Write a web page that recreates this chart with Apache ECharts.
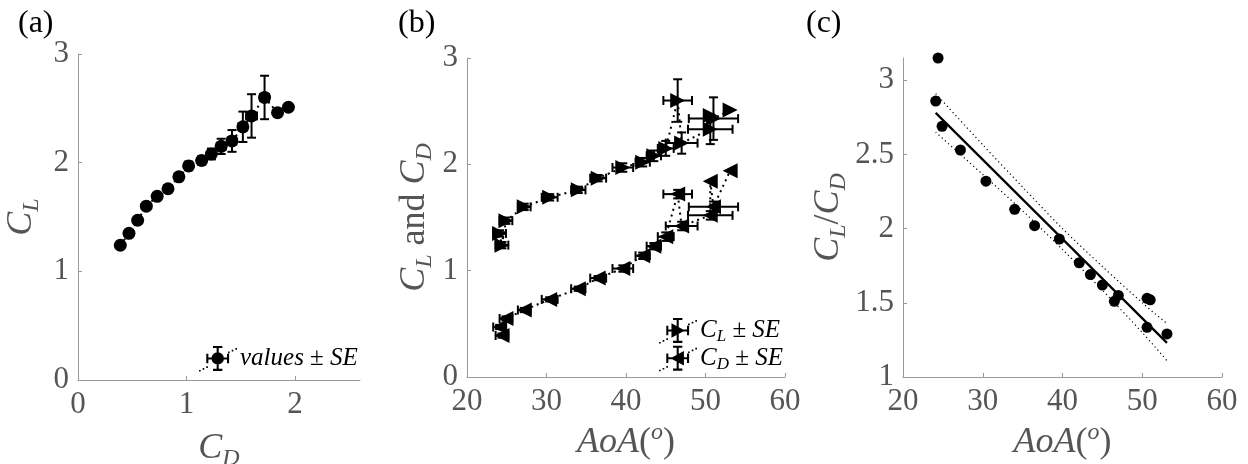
<!DOCTYPE html>
<html>
<head>
<meta charset="utf-8">
<script src="https://cdn.jsdelivr.net/npm/echarts@6/dist/echarts.min.js"></script>
<style>
  html, body { margin: 0; padding: 0; background: #fff; }
  #chart { width: 1248px; height: 464px; }
</style>
</head>
<body>
<div id="chart"></div>
<script>
// Test conditions, ordered by increasing drag coefficient
const aoa   = [24.4, 24.1, 24.9, 27.2, 30.4, 34.0, 36.5, 39.6, 42.1, 43.5, 45.0, 47.0, 50.6, 51.0, 46.5, 50.6, 53.1];
const aoaSE = [0.8, 0.8, 0.8, 0.8, 1.0, 0.9, 1.0, 1.3, 0.9, 0.9, 1.0, 2.0, 2.8, 3.1, 1.8, 0, 0];
const cl    = [1.24, 1.35, 1.47, 1.60, 1.69, 1.76, 1.87, 1.97, 2.02, 2.08, 2.15, 2.20, 2.33, 2.43, 2.60, 2.46, 2.51];
const clSE  = [0.03, 0.03, 0.03, 0.03, 0.03, 0.03, 0.03, 0.04, 0.04, 0.05, 0.07, 0.10, 0.14, 0.20, 0.20, 0, 0];
const cd    = [0.39, 0.47, 0.55, 0.63, 0.73, 0.83, 0.93, 1.02, 1.14, 1.23, 1.32, 1.42, 1.52, 1.60, 1.72, 1.84, 1.94];
const cdSE  = [0.02, 0.02, 0.02, 0.02, 0.02, 0.02, 0.02, 0.03, 0.03, 0.03, 0.04, 0.04, 0.04, 0.05, 0.04, 0, 0];
const ratio = [3.15, 2.86, 2.69, 2.53, 2.32, 2.13, 2.02, 1.93, 1.77, 1.69, 1.62, 1.55, 1.53, 1.52, 1.51, 1.335, 1.29];

// Linear fit of CL/CD against AoA and its confidence band
const fitAoA    = [24.1, 53.1];
const fitRatio  = [2.78, 1.23];
const bandAoA   = [24.1, 30, 35, 40, 45, 50, 53.1];
const bandUpper = [2.91, 2.565, 2.28, 2.00, 1.745, 1.50, 1.36];
const bandLower = [2.65, 2.365, 2.12, 1.86, 1.585, 1.30, 1.11];

// Tick positions
const ticksCD    = [0, 1, 2];
const ticksCoef  = [0, 1, 2, 3];
const ticksAoA   = [20, 30, 40, 50, 60];
const ticksRatio = [1, 1.5, 2, 2.5, 3];

const SERIF = 'Liberation Serif';
const GREY = '#555';
const AXIS_GREY = '#9a9a9a';

// rich-text styles for math-like labels
const nameRich = {
  i: { fontFamily: SERIF, fontStyle: 'italic', fontSize: 36, lineHeight: 44, color: GREY },
  r: { fontFamily: SERIF, fontSize: 36, lineHeight: 44, color: GREY },
  s: { fontFamily: SERIF, fontStyle: 'italic', fontSize: 24, lineHeight: 22, verticalAlign: 'bottom', color: GREY },
  p: { fontFamily: SERIF, fontStyle: 'italic', fontSize: 24, lineHeight: 30, verticalAlign: 'top', color: GREY }
};
const legendRich = {
  i: { fontFamily: SERIF, fontStyle: 'italic', fontSize: 25, lineHeight: 28, color: '#000' },
  r: { fontFamily: SERIF, fontSize: 25, lineHeight: 28, color: '#000' },
  s: { fontFamily: SERIF, fontStyle: 'italic', fontSize: 17, lineHeight: 15, verticalAlign: 'bottom', color: '#000' }
};

function valueAxis(gridIndex, min, max, ticks, extra) {
  return Object.assign({
    type: 'value', gridIndex, min, max,
    axisLine: { show: true, onZero: false, lineStyle: { color: AXIS_GREY, width: 1 } },
    axisTick: { show: true, inside: true, length: 4, customValues: ticks, lineStyle: { color: AXIS_GREY } },
    axisLabel: { customValues: ticks, fontFamily: SERIF, fontSize: 31, color: GREY, margin: 9 },
    splitLine: { show: false },
    nameLocation: 'middle',
    nameMoveOverlap: false,
    nameTextStyle: { rich: nameRich }
  }, extra);
}

// error bars drawn through the axis scales
function errorBars(gi, rows) {
  return {
    type: 'custom', xAxisIndex: gi, yAxisIndex: gi, z: 3, silent: true,
    data: rows,
    encode: { x: [0, 2, 3], y: [1, 4, 5] },
    renderItem(params, api) {
      const x = api.value(0), y = api.value(1);
      const x0 = api.value(2), x1 = api.value(3), y0 = api.value(4), y1 = api.value(5);
      const st = { stroke: '#000', lineWidth: 2 };
      const cap = 4.5;
      const kids = [];
      const seg = (ax, ay, bx, by) => kids.push({ type: 'line', shape: { x1: ax, y1: ay, x2: bx, y2: by }, style: st });
      if (x1 > x0) {
        const a = api.coord([x0, y]), b = api.coord([x1, y]);
        seg(a[0], a[1], b[0], b[1]);
        seg(a[0], a[1] - cap, a[0], a[1] + cap);
        seg(b[0], b[1] - cap, b[0], b[1] + cap);
      }
      if (y1 > y0) {
        const a = api.coord([x, y0]), b = api.coord([x, y1]);
        seg(a[0], a[1], b[0], b[1]);
        seg(a[0] - cap, a[1], a[0] + cap, a[1]);
        seg(b[0] - cap, b[1], b[0] + cap, b[1]);
      }
      return { type: 'group', children: kids };
    }
  };
}

// legend glyph: dotted line, cross-shaped error bars and a centre marker
function legendGlyph(marker) {
  let p = '';
  const dots = [[0, 24], [3.5, 22.3], [7, 20.6], [28, 6.4], [31.5, 4.7], [35, 3]];
  dots.forEach(d => { p += `M${d[0]} ${d[1]}L${d[0] + 1.6} ${d[1]}L${d[0] + 1.6} ${d[1] + 1.6}L${d[0]} ${d[1] + 1.6}Z`; });
  p += 'M8 12L28 12L28 14L8 14Z';
  p += 'M7 8.5L9 8.5L9 17.5L7 17.5Z M27 8.5L29 8.5L29 17.5L27 17.5Z';
  p += 'M17 2L19 2L19 24L17 24Z';
  p += 'M13.5 1L22.5 1L22.5 3L13.5 3Z M13.5 23L22.5 23L22.5 25L13.5 25Z';
  p += marker;
  return 'path://' + p;
}
const circleGlyph = 'M24 13A6 6 0 1 1 12 13A6 6 0 1 1 24 13Z';
const rightGlyph  = 'M12 6L25 13L12 20Z';
const leftGlyph   = 'M24 6L24 20L11 13Z';

const RIGHT_TRI = 'path://M0 0L12 6L0 12Z';
const LEFT_TRI  = 'path://M12 0L0 6L12 12Z';

const idx = aoa.map((_, i) => i);
const byCD = idx.slice().sort((a, b) => cd[a] - cd[b]);
const byAoA = idx.slice().sort((a, b) => aoa[a] - aoa[b]);

const dotted = { color: '#000', width: 2, type: [2, 4] };
const titleStyle = { fontFamily: SERIF, fontSize: 32, fontWeight: 'normal', color: '#000' };

const option = {
  animation: false,
  backgroundColor: '#fff',
  title: [
    { text: '(a)', left: 13, top: 3, textStyle: titleStyle },
    { text: '(b)', left: 393, top: 3, textStyle: titleStyle },
    { text: '(c)', left: 801, top: 3, textStyle: titleStyle }
  ],
  grid: [
    { left: 78, top: 54, width: 282, height: 326, outerBoundsMode: 'none' },
    { left: 467, top: 58, width: 318, height: 319, outerBoundsMode: 'none' },
    { left: 903, top: 58, width: 319, height: 319, outerBoundsMode: 'none' }
  ],
  legend: [
    {
      left: 194, top: 341, itemWidth: 38, itemHeight: 26, itemGap: 2, selectedMode: false,
      data: [{ name: 'values ± SE', icon: legendGlyph(circleGlyph) }],
      formatter: () => '{i|values}{r| ± }{i|SE}',
      textStyle: { rich: legendRich, padding: [0, 0, 0, -2] }
    },
    {
      left: 654, top: 313, orient: 'vertical', itemWidth: 38, itemHeight: 26, itemGap: 1, selectedMode: false,
      data: [
        { name: 'CL ± SE', icon: legendGlyph(rightGlyph) },
        { name: 'CD ± SE', icon: legendGlyph(leftGlyph) }
      ],
      formatter: n => n === 'CL ± SE' ? '{i|C}{s|L}{r| ± }{i|SE}' : '{i|C}{s|D}{r| ± }{i|SE}',
      textStyle: { rich: legendRich, padding: [0, 0, 0, -2] }
    }
  ],
  xAxis: [
    valueAxis(0, 0, 2.6, ticksCD, { name: '{i|C}{s|D}', nameGap: 47 }),
    valueAxis(1, 20, 60, ticksAoA, { name: '{i|AoA}{r|(}{p|o}{r|)}', nameGap: 44 }),
    valueAxis(2, 20, 60, ticksAoA, { name: '{i|AoA}{r|(}{p|o}{r|)}', nameGap: 44 })
  ],
  yAxis: [
    valueAxis(0, 0, 3, ticksCoef, { name: '{i|C}{s|L}', nameGap: 34 }),
    valueAxis(1, 0, 3, ticksCoef, { name: '{i|C}{s|L}{r| and }{i|C}{s|D}', nameGap: 30 }),
    valueAxis(2, 1, 3.15, ticksRatio, { name: '{i|C}{s|L}{r|/}{i|C}{s|D}', nameGap: 52 })
  ],
  series: [
    // (a) lift against drag
    { type: 'line', xAxisIndex: 0, yAxisIndex: 0, z: 2, silent: true, showSymbol: false,
      data: byCD.map(i => [cd[i], cl[i]]), lineStyle: dotted },
    errorBars(0, byCD.map(i => [cd[i], cl[i], cd[i] - cdSE[i], cd[i] + cdSE[i], cl[i] - clSE[i], cl[i] + clSE[i]])),
    { type: 'scatter', name: 'values ± SE', xAxisIndex: 0, yAxisIndex: 0, z: 4, silent: true, clip: false,
      symbol: 'circle', symbolSize: 13, itemStyle: { color: '#000', opacity: 1 },
      data: byCD.map(i => [cd[i], cl[i]]) },

    // (b) coefficients against angle of attack
    { type: 'line', xAxisIndex: 1, yAxisIndex: 1, z: 2, silent: true, showSymbol: false,
      data: byAoA.map(i => [aoa[i], cl[i]]), lineStyle: dotted },
    { type: 'line', xAxisIndex: 1, yAxisIndex: 1, z: 2, silent: true, showSymbol: false,
      data: byAoA.map(i => [aoa[i], cd[i]]), lineStyle: dotted },
    errorBars(1, byAoA.map(i => [aoa[i], cl[i], aoa[i] - aoaSE[i], aoa[i] + aoaSE[i], cl[i] - clSE[i], cl[i] + clSE[i]])),
    errorBars(1, byAoA.map(i => [aoa[i], cd[i], aoa[i] - aoaSE[i], aoa[i] + aoaSE[i], cd[i] - cdSE[i], cd[i] + cdSE[i]])),
    { type: 'scatter', name: 'CL ± SE', xAxisIndex: 1, yAxisIndex: 1, z: 4, silent: true, clip: false,
      symbol: RIGHT_TRI, symbolSize: 15, itemStyle: { color: '#000', opacity: 1 },
      data: byAoA.map(i => [aoa[i], cl[i]]) },
    { type: 'scatter', name: 'CD ± SE', xAxisIndex: 1, yAxisIndex: 1, z: 4, silent: true, clip: false,
      symbol: LEFT_TRI, symbolSize: 15, itemStyle: { color: '#000', opacity: 1 },
      data: byAoA.map(i => [aoa[i], cd[i]]) },

    // (c) lift-to-drag ratio with linear fit
    { type: 'line', xAxisIndex: 2, yAxisIndex: 2, z: 2, silent: true, showSymbol: false, smooth: 0.3,
      data: bandAoA.map((a, k) => [a, bandUpper[k]]), lineStyle: { color: '#000', width: 1.2, type: [1.2, 3] } },
    { type: 'line', xAxisIndex: 2, yAxisIndex: 2, z: 2, silent: true, showSymbol: false, smooth: 0.3,
      data: bandAoA.map((a, k) => [a, bandLower[k]]), lineStyle: { color: '#000', width: 1.2, type: [1.2, 3] } },
    { type: 'line', xAxisIndex: 2, yAxisIndex: 2, z: 3, silent: true, showSymbol: false,
      data: fitAoA.map((a, k) => [a, fitRatio[k]]), lineStyle: { color: '#000', width: 2.2 } },
    { type: 'scatter', xAxisIndex: 2, yAxisIndex: 2, z: 4, silent: true, clip: false,
      symbol: 'circle', symbolSize: 11, itemStyle: { color: '#000', opacity: 1 },
      data: idx.map(i => [aoa[i], ratio[i]]) }
  ]
};

const chart = echarts.init(document.getElementById('chart'), null, { renderer: 'canvas' });
chart.setOption(option);
</script>
</body>
</html>
